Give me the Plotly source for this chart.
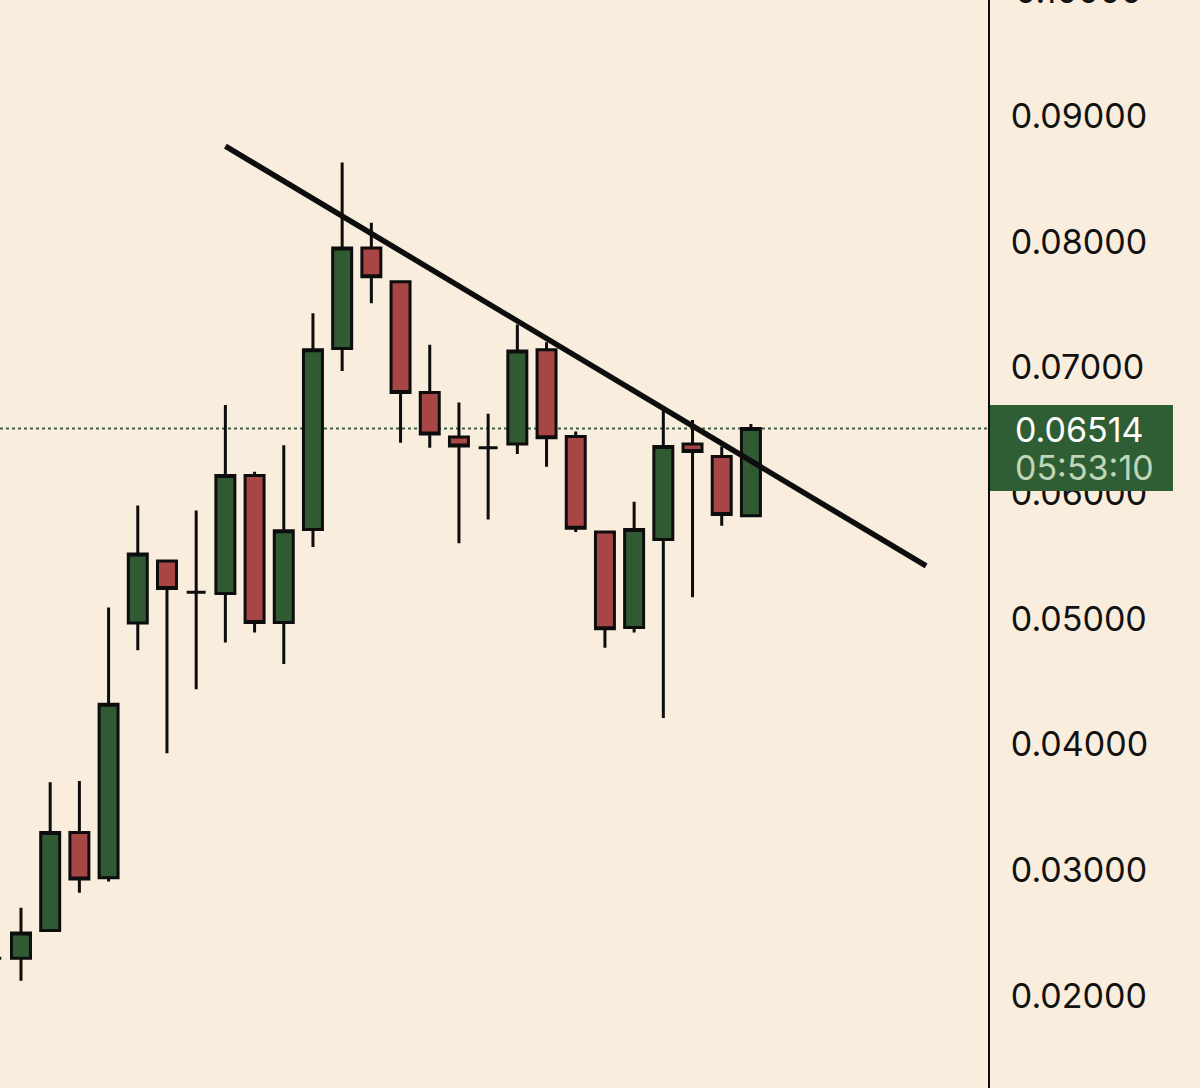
import plotly.graph_objects as go

# дані свічок (індекс свічки, OHLC)
idx = list(range(27))
opens = [0.0230, 0.0230, 0.0252, 0.0330, 0.0294, 0.04966, 0.0546, 0.0521, 0.0520, 0.0614,
         0.0497, 0.0571, 0.0715, 0.0795, 0.0768, 0.0680, 0.06446, 0.0636, 0.0639, 0.0714,
         0.0645, 0.0569, 0.0493, 0.0563, 0.0639, 0.0629, 0.0582]
highs = [0.0230, 0.0270, 0.0370, 0.0371, 0.0509, 0.0590, 0.0546, 0.0586, 0.0670, 0.0617,
         0.0638, 0.0743, 0.0863, 0.0815, 0.0768, 0.0718, 0.0672, 0.0663, 0.0734, 0.0720,
         0.0649, 0.0569, 0.0593, 0.0666, 0.0658, 0.0637, 0.0655]
lows = [0.0230, 0.0212, 0.0252, 0.0282, 0.0291, 0.0475, 0.0393, 0.0444, 0.0481, 0.0489,
        0.0464, 0.0557, 0.0697, 0.0751, 0.0640, 0.0636, 0.0560, 0.0579, 0.0631, 0.0621,
        0.0569, 0.0477, 0.0489, 0.0421, 0.0517, 0.0574, 0.0582]
closes = [0.0230, 0.0250, 0.0330, 0.0293, 0.0432, 0.05515, 0.0524, 0.0521, 0.0614, 0.0497,
          0.0570, 0.0714, 0.0795, 0.0772, 0.0680, 0.0647, 0.06374, 0.0636, 0.0713, 0.0644,
          0.0572, 0.0492, 0.0571, 0.0637, 0.0633, 0.0583, 0.06514]

# трендова лінія (точки кінців)
trend_x = [8, 32]
trend_y = [0.0876, 0.0542]

last_price = 0.06514
countdown = "05:53:10"
tick_vals = [0.02, 0.03, 0.04, 0.05, 0.06, 0.07, 0.08, 0.09]
top_tick = 0.10

y_range = [0.01267, 0.09922]
bg = "#F9EEDD"
green = "#2F5A32"
red = "#A84545"
ink = "#0d0d0d"
W, H = 1200, 1088
plot_w = 988  # правий край області графіка (вісь)

fig = go.Figure()

fig.add_trace(go.Candlestick(
    x=idx, open=opens, high=highs, low=lows, close=closes,
    increasing=dict(fillcolor=green, line=dict(color=ink, width=3)),
    decreasing=dict(fillcolor=red, line=dict(color=ink, width=3)),
    whiskerwidth=0,
    showlegend=False,
    hoverinfo="skip"
))

fig.add_trace(go.Scatter(
    x=trend_x, y=trend_y, mode="lines",
    line=dict(color=ink, width=5.5),
    showlegend=False, hoverinfo="skip"
))

# пунктир поточної ціни
fig.add_shape(type="line", xref="paper", yref="y", x0=0, x1=1,
              y0=last_price, y1=last_price, layer="below",
              line=dict(color="#3d6044", width=2, dash="dot"))

# плашка з ціною справа
fig.add_shape(type="rect", xref="paper", yref="paper",
              x0=990 / plot_w, x1=1173 / plot_w, y0=1 - 491 / H, y1=1 - 405 / H,
              fillcolor="#2F5E34", line=dict(width=0), layer="above")
fig.add_annotation(xref="paper", yref="y", x=1013 / plot_w, y=last_price,
                   text=f"{last_price:.5f}", showarrow=False, xanchor="left",
                   yshift=-1,
                   font=dict(family="Inter", size=34, color="#FFFFFF"))
fig.add_annotation(xref="paper", yref="y", x=1013 / plot_w, y=last_price,
                   text=countdown, showarrow=False, xanchor="left",
                   yshift=-39,
                   font=dict(family="Inter", size=34, color="#BFD6B8"))
# обрізана верхня мітка (поза діапазоном осі)
top_paper = (top_tick - y_range[0]) / (y_range[1] - y_range[0])
fig.add_annotation(xref="paper", yref="paper", x=1013 / plot_w, y=top_paper,
                   text=f"{top_tick:.5f}", showarrow=False, xanchor="left",
                   yanchor="middle",
                   font=dict(family="Inter", size=34, color="#111111"))

fig.update_layout(
    width=W, height=H,
    margin=dict(l=0, r=W - plot_w, t=0, b=0),
    paper_bgcolor=bg, plot_bgcolor=bg,
    boxgap=0.35, boxgroupgap=0,
    xaxis=dict(range=[0.281, 34.12], visible=False, rangeslider=dict(visible=False),
               fixedrange=True),
    yaxis=dict(range=y_range, side="right", showgrid=False, zeroline=False,
               showline=True, linecolor=ink, linewidth=2,
               tickvals=tick_vals, tickformat=".5f", ticks="",
               ticklabelstandoff=14, fixedrange=True,
               tickfont=dict(family="Inter", size=34, color="#111111")),
)

fig.write_html("out.html",
               config={"displayModeBar": False},
               post_script="document.body.style.margin='0';"
                           "document.body.style.overflow='hidden';")
